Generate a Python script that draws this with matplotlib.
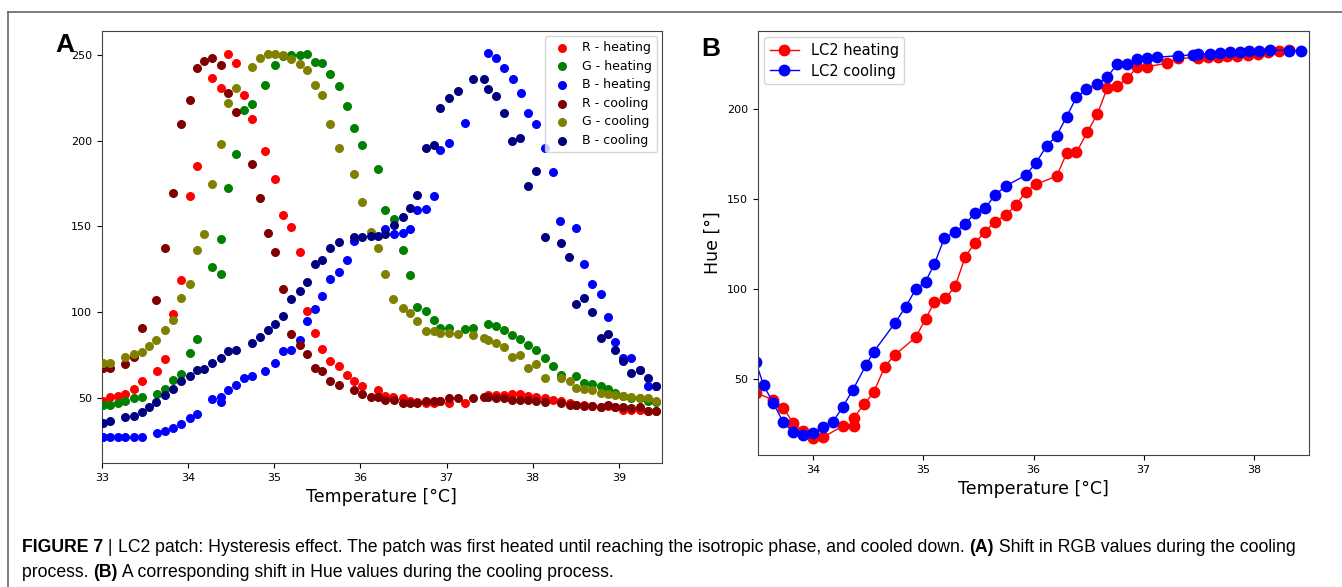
import matplotlib
matplotlib.use("Agg")
import matplotlib.pyplot as plt
from matplotlib.lines import Line2D
from matplotlib import font_manager

# ---- Panel A: RGB values vs temperature (heating / cooling) ----
r_heat_t = [33.01, 33.10, 33.19, 33.27, 33.37, 33.47, 33.64, 33.74, 33.83, 33.92, 34.02, 34.11,
            34.28, 34.38, 34.47, 34.56, 34.65, 34.74, 34.90, 35.01, 35.10, 35.20, 35.30, 35.38,
            35.47, 35.56, 35.65, 35.75, 35.84, 35.93, 36.02, 36.20, 36.29, 36.38, 36.49, 36.58,
            36.66, 36.76, 36.85, 36.93, 37.03, 37.22, 37.48, 37.57, 37.67, 37.76, 37.85, 37.94,
            38.04, 38.14, 38.23, 38.33, 38.43, 38.50, 38.60, 38.69, 38.79, 38.87, 38.96, 39.05,
            39.14, 39.24, 39.34, 39.43]
r_heat_v = [48.4, 50.4, 51.0, 52.0, 54.9, 59.7, 65.6, 72.8, 99.0, 118.5, 167.7, 185.0,
            236.4, 230.5, 250.4, 245.3, 226.5, 212.5, 194.0, 177.4, 156.6, 149.6, 135.2, 100.6,
            87.7, 78.4, 71.4, 68.5, 63.6, 59.7, 56.8, 54.3, 51.0, 50.4, 50.0, 48.0,
            47.7, 47.0, 47.0, 48.0, 47.0, 47.0, 51.6, 51.6, 51.6, 52.0, 52.0, 51.0,
            50.4, 50.0, 49.0, 48.0, 47.0, 46.0, 46.0, 45.5, 44.6, 45.0, 44.6, 43.2,
            43.2, 43.2, 42.2, 42.2]

g_heat_t = [33.01, 33.10, 33.19, 33.27, 33.37, 33.47, 33.64, 33.74, 33.83, 33.92, 34.02, 34.11,
            34.28, 34.38, 34.38, 34.47, 34.56, 34.65, 34.74, 34.90, 35.01, 35.10, 35.20, 35.30,
            35.38, 35.47, 35.56, 35.65, 35.75, 35.84, 35.93, 36.02, 36.20, 36.29, 36.39, 36.49,
            36.58, 36.66, 36.76, 36.85, 36.93, 37.03, 37.22, 37.31, 37.48, 37.57, 37.67, 37.76,
            37.85, 37.94, 38.04, 38.14, 38.23, 38.33, 38.50, 38.60, 38.69, 38.79, 38.87, 38.96,
            39.05, 39.14, 39.24, 39.34, 39.43]
g_heat_v = [46.1, 46.1, 47.0, 48.4, 50.0, 50.4, 52.5, 54.9, 60.3, 64.2, 76.3, 84.6,
            126.5, 122.4, 142.8, 172.2, 192.4, 217.9, 221.6, 232.3, 244.2, 249.5, 249.8, 249.8,
            250.4, 246.0, 245.3, 238.7, 231.7, 220.0, 207.2, 197.5, 183.5, 159.7, 154.1, 136.2,
            121.6, 102.9, 100.6, 95.7, 90.9, 90.9, 89.9, 90.9, 92.8, 91.8, 89.3, 86.6,
            84.6, 80.7, 78.2, 73.0, 68.5, 63.2, 62.6, 58.8, 57.8, 56.8, 54.9, 52.9,
            51.0, 50.0, 50.0, 48.4, 47.7]

b_heat_t = [33.01, 33.10, 33.19, 33.27, 33.37, 33.47, 33.64, 33.74, 33.83, 33.92, 34.02, 34.11,
            34.28, 34.38, 34.38, 34.47, 34.56, 34.65, 34.74, 34.90, 35.01, 35.10, 35.20, 35.30,
            35.38, 35.47, 35.56, 35.65, 35.75, 35.84, 35.93, 36.29, 36.39, 36.49, 36.58, 36.66,
            36.76, 36.85, 36.93, 37.03, 37.22, 37.48, 37.57, 37.67, 37.77, 37.86, 37.95, 38.04,
            38.14, 38.23, 38.32, 38.50, 38.60, 38.69, 38.79, 38.87, 38.96, 39.05, 39.14, 39.24,
            39.34, 39.43]
b_heat_v = [27.2, 27.2, 27.2, 27.2, 27.2, 27.2, 29.6, 30.5, 32.5, 34.8, 38.3, 40.7,
            49.4, 50.6, 47.5, 54.3, 57.4, 61.7, 62.6, 65.6, 70.4, 77.6, 78.2, 83.5,
            94.7, 101.6, 109.3, 119.5, 123.5, 130.4, 141.4, 148.6, 145.7, 146.3, 148.6, 159.3,
            159.9, 167.7, 194.4, 198.8, 210.1, 251.0, 248.4, 242.6, 236.2, 228.0, 216.3, 209.5,
            195.9, 181.7, 153.1, 148.8, 127.8, 116.5, 110.3, 97.3, 82.7, 73.3, 73.3, 66.0,
            56.8, 56.8]

r_cool_t = [33.01, 33.10, 33.27, 33.37, 33.47, 33.63, 33.74, 33.83, 33.92, 34.02, 34.11, 34.19,
            34.28, 34.38, 34.47, 34.56, 34.74, 34.84, 34.93, 35.01, 35.10, 35.20, 35.30, 35.38,
            35.47, 35.56, 35.65, 35.75, 35.93, 36.02, 36.12, 36.20, 36.29, 36.39, 36.49, 36.58,
            36.66, 36.76, 36.85, 36.93, 37.03, 37.13, 37.31, 37.44, 37.48, 37.57, 37.67, 37.76,
            37.85, 37.94, 38.04, 38.14, 38.33, 38.43, 38.50, 38.59, 38.69, 38.79, 38.87, 38.96,
            39.05, 39.14, 39.24, 39.34, 39.43]
r_cool_v = [67.5, 67.5, 70.0, 73.7, 90.5, 107.0, 137.5, 169.3, 209.5, 223.5, 242.6, 246.5,
            248.4, 244.0, 228.0, 216.7, 186.6, 166.7, 146.0, 135.2, 113.6, 87.0, 81.1, 75.3,
            67.5, 65.6, 59.7, 57.4, 54.3, 52.3, 50.4, 50.4, 49.0, 49.0, 47.0, 47.0,
            47.0, 48.0, 48.0, 48.0, 50.0, 50.0, 50.0, 50.4, 50.4, 50.0, 50.0, 49.0,
            49.0, 48.5, 48.0, 47.5, 47.0, 46.0, 46.0, 45.5, 45.5, 44.6, 46.0, 44.6,
            44.6, 43.8, 44.6, 42.6, 42.6]

g_cool_t = [33.01, 33.10, 33.27, 33.37, 33.47, 33.55, 33.63, 33.74, 33.83, 33.92, 34.02, 34.11,
            34.19, 34.28, 34.38, 34.47, 34.56, 34.74, 34.84, 34.93, 35.01, 35.10, 35.20, 35.30,
            35.38, 35.47, 35.56, 35.65, 35.75, 35.93, 36.02, 36.12, 36.20, 36.29, 36.38, 36.49,
            36.58, 36.66, 36.76, 36.85, 36.93, 37.03, 37.13, 37.31, 37.44, 37.48, 37.57, 37.67,
            37.76, 37.85, 37.94, 38.04, 38.14, 38.33, 38.43, 38.50, 38.60, 38.69, 38.79, 38.87,
            38.96, 39.05, 39.14, 39.24, 39.34, 39.43]
g_cool_v = [70.4, 70.4, 73.7, 75.3, 76.8, 80.5, 83.7, 89.3, 95.7, 108.4, 116.5, 136.2,
            145.7, 174.5, 198.2, 222.2, 230.5, 243.2, 248.4, 250.4, 250.4, 250.0, 247.5, 245.0,
            241.4, 232.3, 226.5, 209.5, 195.9, 180.4, 164.2, 146.9, 137.5, 122.0, 107.4, 102.5,
            99.6, 94.7, 88.9, 88.9, 88.0, 88.0, 87.5, 86.4, 85.0, 83.5, 82.1, 79.6,
            73.7, 74.9, 67.5, 69.5, 61.7, 61.3, 59.7, 55.8, 55.4, 54.3, 52.9, 52.3,
            51.6, 51.0, 50.4, 50.0, 50.0, 48.4]

b_cool_t = [33.01, 33.10, 33.27, 33.37, 33.47, 33.55, 33.63, 33.74, 33.83, 33.92, 34.02, 34.11,
            34.19, 34.28, 34.38, 34.47, 34.56, 34.74, 34.84, 34.93, 35.01, 35.10, 35.20, 35.30,
            35.38, 35.47, 35.56, 35.65, 35.75, 35.93, 36.02, 36.12, 36.20, 36.29, 36.39, 36.49,
            36.58, 36.66, 36.76, 36.85, 36.93, 37.03, 37.13, 37.31, 37.44, 37.48, 37.57, 37.67,
            37.76, 37.85, 37.95, 38.04, 38.14, 38.33, 38.42, 38.50, 38.60, 38.69, 38.79, 38.87,
            38.96, 39.05, 39.14, 39.24, 39.34, 39.43]
b_cool_v = [35.4, 36.4, 38.7, 39.3, 41.6, 44.6, 47.5, 51.6, 55.4, 60.1, 62.6, 66.5,
            67.1, 70.4, 73.3, 77.2, 78.2, 82.1, 85.4, 89.3, 92.8, 97.7, 107.4, 112.3,
            117.7, 127.8, 130.2, 137.5, 141.0, 143.8, 143.8, 144.4, 144.4, 145.3, 150.8, 155.4,
            160.5, 168.3, 195.5, 197.5, 219.3, 225.1, 229.0, 236.2, 236.2, 230.4, 225.9, 216.3,
            199.8, 201.4, 173.5, 182.3, 144.0, 140.5, 132.1, 104.9, 108.0, 100.2, 85.0, 87.4,
            78.0, 71.4, 64.4, 66.0, 61.7, 56.8]

series_a = [
    ("R - heating", "red", r_heat_t, r_heat_v),
    ("G - heating", "green", g_heat_t, g_heat_v),
    ("B - heating", "blue", b_heat_t, b_heat_v),
    ("R - cooling", "maroon", r_cool_t, r_cool_v),
    ("G - cooling", "olive", g_cool_t, g_cool_v),
    ("B - cooling", "navy", b_cool_t, b_cool_v),
]

# ---- Panel B: Hue vs temperature ----
hue_heat_t = [33.48, 33.64, 33.73, 33.82, 33.91, 34.00, 34.09, 34.27, 34.37, 34.37, 34.46, 34.55,
              34.65, 34.74, 34.93, 35.02, 35.10, 35.20, 35.29, 35.38, 35.47, 35.56, 35.65, 35.75,
              35.84, 35.93, 36.02, 36.21, 36.30, 36.39, 36.49, 36.58, 36.67, 36.76, 36.85, 36.94,
              37.03, 37.21, 37.31, 37.49, 37.58, 37.67, 37.76, 37.85, 37.95, 38.04, 38.13, 38.23,
              38.32]
hue_heat_v = [42.6, 38.5, 34.2, 25.6, 21.3, 17.2, 17.8, 24.2, 24.2, 28.7, 36.1, 42.8,
              57.0, 63.5, 73.3, 83.5, 92.8, 95.0, 101.8, 118.1, 125.9, 132.0, 137.6, 141.3,
              146.8, 154.2, 158.3, 162.9, 175.5, 176.1, 187.6, 197.4, 212.0, 212.9, 217.2, 223.3,
              223.7, 225.6, 228.3, 228.7, 228.9, 229.3, 229.7, 229.7, 230.2, 230.7, 231.7, 232.4,
              232.9]

hue_cool_t = [33.48, 33.55, 33.64, 33.73, 33.82, 33.91, 34.00, 34.09, 34.18, 34.27, 34.36, 34.48,
              34.55, 34.74, 34.84, 34.93, 35.02, 35.10, 35.19, 35.29, 35.38, 35.47, 35.56, 35.65,
              35.75, 35.93, 36.02, 36.12, 36.21, 36.30, 36.39, 36.48, 36.58, 36.67, 36.76, 36.85,
              36.94, 37.03, 37.12, 37.31, 37.45, 37.49, 37.60, 37.69, 37.78, 37.87, 37.96, 38.05,
              38.15, 38.32, 38.43]
hue_cool_v = [59.8, 46.8, 36.7, 26.1, 20.6, 19.1, 20.0, 23.3, 26.4, 34.8, 44.1, 57.9,
              65.3, 81.1, 90.3, 100.0, 104.3, 114.0, 128.3, 132.0, 136.1, 142.6, 145.0, 152.4,
              157.4, 163.5, 170.0, 179.8, 185.3, 195.9, 206.7, 211.2, 214.0, 218.1, 225.0, 225.0,
              227.9, 228.3, 228.9, 229.8, 230.2, 230.6, 230.7, 231.1, 231.7, 232.0, 232.4, 232.6,
              233.0, 232.6, 232.6]

a_xticks = [33, 34, 35, 36, 37, 38, 39]
b_xticks = [34, 35, 36, 37, 38]

W, H = 1342, 587
fig = plt.figure(figsize=(W / 100, H / 100), dpi=100)
fig.patch.set_facecolor("white")

# panel A
ax1 = fig.add_axes([101.7 / W, 1 - 463 / H, (662 - 101.7) / W, (463 - 31) / H])
for label, color, t, v in series_a:
    ax1.scatter(t, v, s=30, color=color, label=label, zorder=3)
ax1.set_xlim(33, 39.5)
ax1.set_ylim(12, 264)
ax1.set_xticks(a_xticks)
ax1.tick_params(labelsize=8)
ax1.set_xlabel("Temperature [°C]", fontsize=12.5)
ax1.legend(loc="upper right", fontsize=9, scatterpoints=1, handletextpad=0.6,
           borderaxespad=0.4, labelspacing=0.45)

# panel B
ax2 = fig.add_axes([758 / W, 1 - 455 / H, (1309 - 758) / W, (455 - 31) / H])
ax2.plot(hue_heat_t, hue_heat_v, "-o", color="red", lw=1, ms=7.5, label="LC2 heating")
ax2.plot(hue_cool_t, hue_cool_v, "-o", color="blue", lw=1, ms=7.5, label="LC2 cooling")
ax2.set_xlim(33.5, 38.5)
ax2.set_ylim(8, 243.5)
ax2.set_xticks(b_xticks)
ax2.tick_params(labelsize=8)
ax2.set_xlabel("Temperature [°C]", fontsize=12.5)
ax2.set_ylabel("Hue [°]", fontsize=12.5)
ax2.legend(loc="upper left", fontsize=10.5, borderaxespad=0.4, labelspacing=0.4)

for ax in (ax1, ax2):
    for sp in ax.spines.values():
        sp.set_color("#444444")

# panel letters
fig.text(55 / W, 1 - 52 / H, "A", fontsize=19, fontweight="bold", family="Liberation Sans")
fig.text(701 / W, 1 - 56 / H, "B", fontsize=19, fontweight="bold", family="Liberation Sans")

# frame lines
fig.add_artist(Line2D([8 / W, 1], [1 - 12 / H, 1 - 12 / H], color="#666666", lw=1.2))
fig.add_artist(Line2D([8 / W, 8 / W], [0, 1 - 12 / H], color="#666666", lw=1.2))

# caption
names = {f.name for f in font_manager.fontManager.ttflist}
cap_font = "Liberation Sans Narrow" if "Liberation Sans Narrow" in names else "Liberation Sans"
line1 = [("FIGURE 7", True), (" | ", False),
         ("LC2 patch: Hysteresis effect. The patch was first heated until reaching the isotropic "
          "phase, and cooled down. ", False), ("(A)", True),
         (" Shift in RGB values during the cooling", False)]
line2 = [("process. ", False), ("(B)", True),
         (" A corresponding shift in Hue values during the cooling process.", False)]

renderer = fig.canvas.get_renderer()


def place_line(pieces, y_px, fs):
    x = 22
    arts = []
    for s, bold in pieces:
        t = fig.text(x / W, 1 - y_px / H, s, fontsize=fs, family=cap_font,
                     fontweight="bold" if bold else "normal", va="baseline", ha="left")
        bb = t.get_window_extent(renderer)
        x = bb.x1
        arts.append(t)
    return arts, x


fs = 12
arts, end = place_line(line1, 552, fs)
for a in arts:
    a.remove()
fs = fs * (1297 - 22) / (end - 22)
place_line(line1, 552, fs)
place_line(line2, 577, fs)

fig.savefig("out.png", dpi=100)
